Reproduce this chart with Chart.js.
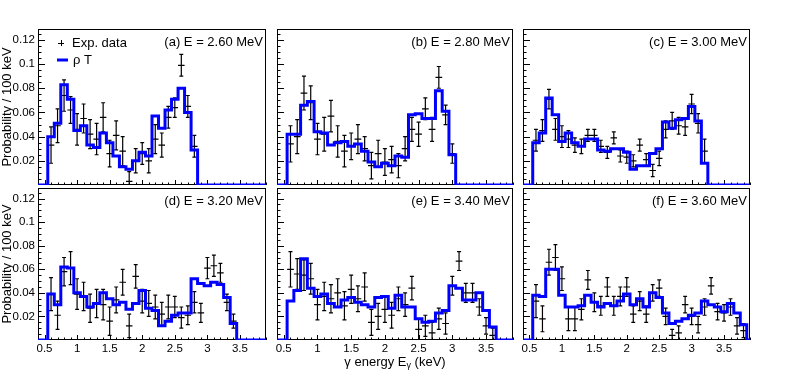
<!DOCTYPE html>
<html>
<head>
<meta charset="utf-8">
<script src="https://cdn.jsdelivr.net/npm/chart.js@4/dist/chart.umd.min.js"></script>
<style>
  html, body { margin: 0; padding: 0; background: #fff; }
  #wrap { position: relative; width: 789px; height: 374px; }
  #wrap canvas { position: absolute; left: 0; top: 0; pointer-events: none; }
</style>
</head>
<body>
<div id="wrap">
  <canvas id="pa" width="789" height="374"></canvas>
  <canvas id="pb" width="789" height="374"></canvas>
  <canvas id="pc" width="789" height="374"></canvas>
  <canvas id="pd" width="789" height="374"></canvas>
  <canvas id="pe" width="789" height="374"></canvas>
  <canvas id="pf" width="789" height="374"></canvas>
</div>
<script>
// gamma energy bins (MeV on the axis, 100 keV wide)
const energyCentres = [0.6, 0.7, 0.8, 0.9, 1.0, 1.1, 1.2, 1.3, 1.4, 1.5, 1.6, 1.7, 1.8, 1.9, 2.0, 2.1, 2.2,
  2.3, 2.4, 2.5, 2.6, 2.7, 2.8, 2.9, 3.0, 3.1, 3.2, 3.3, 3.4, 3.5, 3.6, 3.7, 3.8];
const binEdges = [0.55, 0.65, 0.75, 0.85, 0.95, 1.05, 1.15, 1.25, 1.35, 1.45, 1.55, 1.65, 1.75, 1.85, 1.95,
  2.05, 2.15, 2.25, 2.35, 2.45, 2.55, 2.65, 2.75, 2.85, 2.95, 3.05, 3.15, 3.25, 3.35, 3.45, 3.55, 3.65,
  3.75, 3.85, 3.95];

const xTickValues = [0.5, 1, 1.5, 2, 2.5, 3, 3.5];
const xTickLabels = ['0.5', '1', '1.5', '2', '2.5', '3', '3.5'];
const yTickValues = [0.02, 0.04, 0.06, 0.08, 0.1, 0.12];
const yTickLabels = ['0.02', '0.04', '0.06', '0.08', '0.1', '0.12'];

const panelLabels = ['(a) E = 2.60 MeV', '(b) E = 2.80 MeV', '(c) E = 3.00 MeV',
  '(d) E = 3.20 MeV', '(e) E = 3.40 MeV', '(f) E = 3.60 MeV'];

// experimental points (from 0.6 upward) and their errors
const expA = [0.033, 0.049, 0.074, 0.062, 0.046, 0.055, 0.042, 0.038, 0.056, 0.026, 0.041, 0.028, 0.003,
  0.020, 0.026, 0.020, 0.038, 0.033, 0.056, 0.064, 0.099, 0.065, 0.032];
const errA = [0.015, 0.014, 0.013, 0.011, 0.013, 0.012, 0.012, 0.013, 0.012, 0.011, 0.012, 0.012, 0.008,
  0.010, 0.009, 0.010, 0.012, 0.010, 0.009, 0.008, 0.009, 0.009, 0.009];
const expB = [0.034, 0.040, 0.076, 0.068, 0.038, 0.042, 0.057, 0.036, 0.028, 0.032, 0.038, 0.030, 0.016,
  0.026, 0.019, 0.021, 0.016, 0.030, 0.046, 0.042, 0.063, 0.046, 0.089, 0.058, 0.026];
const errB = [0.015, 0.014, 0.014, 0.014, 0.013, 0.014, 0.013, 0.013, 0.013, 0.011, 0.012, 0.010, 0.011,
  0.011, 0.011, 0.011, 0.010, 0.010, 0.010, 0.010, 0.009, 0.010, 0.009, 0.008, 0.008];
const expC = [0.037, 0.045, 0.071, 0.046, 0.040, 0.038, 0.033, 0.032, 0.041, 0.041, 0.032, 0.027, 0.039,
  0.024, 0.023, 0.020, 0.033, 0.021, 0.012, 0.022, 0.046, 0.053, 0.049, 0.048, 0.067, 0.051, 0.028];
const errC = [0.009, 0.009, 0.008, 0.009, 0.009, 0.007, 0.006, 0.006, 0.005, 0.005, 0.005, 0.005, 0.005,
  0.005, 0.005, 0.005, 0.005, 0.005, 0.005, 0.006, 0.007, 0.007, 0.007, 0.007, 0.008, 0.008, 0.010];
const expD = [0.039, 0.021, 0.058, 0.061, 0.039, 0.037, 0.027, 0.031, 0.030, 0.016, 0.034, 0.049, 0.012,
  0.054, 0.033, 0.031, 0.028, 0.022, 0.028, 0.028, 0.019, 0.021, 0.032, 0.023, 0.061, 0.063, 0.057,
  0.032, 0.016];
const errD = [0.014, 0.012, 0.012, 0.014, 0.013, 0.012, 0.012, 0.012, 0.013, 0.012, 0.011, 0.011, 0.010,
  0.010, 0.010, 0.011, 0.010, 0.010, 0.010, 0.009, 0.009, 0.008, 0.009, 0.008, 0.009, 0.009, 0.008,
  0.007, 0.006];
const expE = [0.060, 0.056, 0.055, 0.052, 0.030, 0.037, 0.035, 0.040, 0.029, 0.043, 0.035, 0.045, 0.015,
  0.020, 0.026, 0.021, 0.035, 0.030, 0.044, 0.009, 0.012, 0.006, 0.018, 0.014, 0.046, 0.067, 0.040,
  0.040, 0.028, 0.012, 0.004];
const errE = [0.015, 0.013, 0.013, 0.013, 0.013, 0.012, 0.012, 0.012, 0.012, 0.012, 0.011, 0.012, 0.011,
  0.011, 0.011, 0.011, 0.010, 0.010, 0.010, 0.009, 0.009, 0.009, 0.009, 0.009, 0.008, 0.008, 0.008,
  0.008, 0.007, 0.007, 0.006];
const expF = [0.033, 0.018, 0.066, 0.070, 0.052, 0.018, 0.018, 0.026, 0.051, 0.032, 0.029, 0.045, 0.029,
  0.037, 0.045, 0.022, 0.033, 0.022, 0.040, 0.044, 0.020, 0.004, 0.006, 0.030, 0.020, 0.013, 0.028,
  0.046, 0.024, 0.023, 0.028, 0.012, 0.008];
const errF = [0.014, 0.011, 0.011, 0.011, 0.010, 0.010, 0.010, 0.009, 0.008, 0.008, 0.008, 0.008, 0.008,
  0.008, 0.008, 0.007, 0.008, 0.007, 0.007, 0.007, 0.007, 0.005, 0.006, 0.007, 0.007, 0.007, 0.007,
  0.007, 0.007, 0.007, 0.007, 0.007, 0.006];

// rho T histograms, one value per bin starting at 0.55
const thA = [0.040, 0.051, 0.083, 0.071, 0.045, 0.049, 0.033, 0.031, 0.043, 0.035, 0.024, 0.015, 0.013,
  0.020, 0.027, 0.024, 0.057, 0.047, 0.062, 0.071, 0.080, 0.060, 0.029];
const thB = [0.042, 0.042, 0.066, 0.069, 0.044, 0.043, 0.033, 0.035, 0.036, 0.032, 0.034, 0.028, 0.019,
  0.015, 0.018, 0.016, 0.024, 0.023, 0.058, 0.059, 0.055, 0.055, 0.078, 0.061, 0.025];
const thC = [0.035, 0.043, 0.072, 0.058, 0.036, 0.043, 0.035, 0.032, 0.038, 0.038, 0.029, 0.028, 0.030,
  0.030, 0.027, 0.013, 0.016, 0.016, 0.026, 0.030, 0.052, 0.047, 0.054, 0.055, 0.065, 0.053, 0.018];
const thD = [0.039, 0.030, 0.062, 0.061, 0.040, 0.037, 0.028, 0.031, 0.040, 0.035, 0.030, 0.032, 0.026,
  0.031, 0.042, 0.027, 0.025, 0.012, 0.016, 0.021, 0.023, 0.023, 0.052, 0.048, 0.046, 0.049, 0.047,
  0.036, 0.014];
const thE = [0.033, 0.042, 0.069, 0.044, 0.037, 0.039, 0.031, 0.028, 0.034, 0.036, 0.032, 0.030, 0.028,
  0.036, 0.037, 0.027, 0.038, 0.028, 0.028, 0.018, 0.015, 0.016, 0.023, 0.025, 0.046, 0.044, 0.034,
  0.034, 0.040, 0.025, 0.011];
const thF = [0.038, 0.037, 0.060, 0.060, 0.038, 0.028, 0.028, 0.029, 0.038, 0.032, 0.028, 0.031, 0.029,
  0.033, 0.039, 0.030, 0.035, 0.028, 0.040, 0.036, 0.023, 0.014, 0.016, 0.018, 0.021, 0.023, 0.033,
  0.030, 0.028, 0.024, 0.031, 0.023, 0.013];

const X_MIN = 0.4, X_MAX = 3.9, Y_MIN = 0, Y_MAX = 0.129;
const FONT = '"Liberation Sans", Arial, Helvetica, sans-serif';
const W = 789, H = 374;
const cols = [[38, 266], [277, 513], [523, 750]];
const rows = [[29, 185], [188, 340]];

function histPoints(values) {
  const pts = [{ x: X_MIN, y: 0 }];
  values.forEach((v, i) => pts.push({ x: binEdges[i], y: v }));
  pts.push({ x: binEdges[values.length], y: 0 });
  pts.push({ x: X_MAX, y: 0 });
  return pts;
}

function errorPoints(values, errors) {
  const pts = [];
  const hw = 0.05, cap = 0.03;
  values.forEach((v, i) => {
    const xc = energyCentres[i], lo = v - errors[i], hi = v + errors[i];
    pts.push({ x: xc, y: lo }, { x: xc, y: hi }, { x: xc, y: null });
    pts.push({ x: xc - hw, y: v }, { x: xc + hw, y: v }, { x: xc, y: null });
    pts.push({ x: xc - cap, y: lo }, { x: xc + cap, y: lo }, { x: xc, y: null });
    pts.push({ x: xc - cap, y: hi }, { x: xc + cap, y: hi }, { x: xc, y: null });
  });
  return pts;
}

// ROOT-like frame: box and inward ticks under the data, texts on top
const rootStyle = {
  id: 'rootStyle',
  beforeDatasetsDraw(chart) {
    const { ctx, chartArea: a, scales: { x, y } } = chart;
    ctx.save();
    ctx.strokeStyle = '#000';
    ctx.lineWidth = 1;
    ctx.beginPath();
    for (let i = 0; i <= 35; i++) {
      const v = X_MIN + i * 0.1;
      const px = Math.round(x.getPixelForValue(v)) + 0.5;
      const major = Math.abs(v * 2 - Math.round(v * 2)) < 1e-6;
      ctx.moveTo(px, a.bottom);
      ctx.lineTo(px, a.bottom - (major ? 5 : 2.5));
    }
    for (let i = 1; i <= 25; i++) {
      const v = i * 0.005;
      const py = Math.round(y.getPixelForValue(v)) + 0.5;
      ctx.moveTo(a.left, py);
      ctx.lineTo(a.left + (i % 4 === 0 ? 7 : 3.5), py);
    }
    ctx.stroke();
    ctx.strokeRect(Math.round(a.left) + 0.5, Math.round(a.top) + 0.5,
      Math.round(a.right - a.left) - 1, Math.round(a.bottom - a.top) - 1);
    ctx.restore();
  },
  afterDatasetsDraw(chart, args, o) {
    const { ctx, chartArea: a } = chart;
    ctx.save();
    ctx.fillStyle = '#000';
    ctx.strokeStyle = '#000';
    ctx.lineWidth = 1;
    ctx.font = '13px ' + FONT;
    ctx.textAlign = 'right';
    ctx.textBaseline = 'middle';
    ctx.fillText(o.label, a.right - 3, a.top + 13);

    if (o.legend) {
      const mx = a.left + 23, my = a.top + 14;
      ctx.beginPath();
      ctx.moveTo(mx - 3, my + 0.5); ctx.lineTo(mx + 3, my + 0.5);
      ctx.moveTo(mx + 0.5, my - 3); ctx.lineTo(mx + 0.5, my + 3);
      ctx.stroke();
      ctx.textAlign = 'left';
      ctx.fillText('Exp. data', a.left + 34, my);
      ctx.strokeStyle = '#0000ff';
      ctx.lineWidth = 3;
      ctx.beginPath();
      ctx.moveTo(a.left + 19, a.top + 31); ctx.lineTo(a.left + 30, a.top + 31);
      ctx.stroke();
      ctx.fillText('\u03c1 T', a.left + 35, a.top + 31);
    }

    if (o.xTitle) {
      const big = '13px ' + FONT, small = '9px ' + FONT;
      const p1 = '\u03b3 energy E', p2 = '\u03b3', p3 = ' (keV)';
      ctx.font = big; const w1 = ctx.measureText(p1).width, w3 = ctx.measureText(p3).width;
      ctx.font = small; const w2 = ctx.measureText(p2).width;
      let tx = (a.left + a.right) / 2 - (w1 + w2 + w3) / 2;
      const ty = a.bottom + 22;
      ctx.textAlign = 'left';
      ctx.font = big; ctx.fillText(p1, tx, ty); tx += w1;
      ctx.font = small; ctx.fillText(p2, tx, ty + 4); tx += w2;
      ctx.font = big; ctx.fillText(p3, tx, ty);
    }
    ctx.restore();
  }
};

function makePanel(id, col, row, label, expValues, expErrors, theory) {
  const [left, right] = cols[col];
  const [top, bottom] = rows[row];
  return new Chart(document.getElementById(id), {
    type: 'scatter',
    data: {
      datasets: [
        {
          label: '\u03c1 T',
          data: histPoints(theory),
          showLine: true,
          stepped: true,
          borderColor: '#0000ff',
          borderWidth: 3,
          pointRadius: 0,
          fill: false,
        },
        {
          label: 'Exp. data',
          data: errorPoints(expValues, expErrors),
          showLine: true,
          spanGaps: false,
          borderColor: '#000',
          borderWidth: 1.2,
          pointRadius: 0,
          fill: false,
        },
      ],
    },
    options: {
      responsive: false,
      animation: false,
      devicePixelRatio: 1,
      layout: { padding: { left: 0, top: top, right: W - right, bottom: 0 } },
      plugins: {
        legend: { display: false },
        tooltip: { enabled: false },
        rootStyle: { label: label, legend: id === 'pa', xTitle: id === 'pe' },
      },
      scales: {
        x: {
          type: 'linear',
          min: X_MIN,
          max: X_MAX,
          afterBuildTicks: (s) => { s.ticks = xTickValues.map((v) => ({ value: v })); },
          afterFit: (s) => { s.height = H - bottom; },
          grid: { display: false, drawTicks: false },
          border: { display: false },
          ticks: {
            display: row === 1,
            autoSkip: false,
            maxRotation: 0,
            padding: 2,
            color: '#000',
            font: { family: FONT, size: 11.5 },
            callback: (v, i) => xTickLabels[i],
          },
        },
        y: {
          type: 'linear',
          min: Y_MIN,
          max: Y_MAX,
          afterBuildTicks: (s) => { s.ticks = yTickValues.map((v) => ({ value: v })); },
          afterFit: (s) => { s.width = left; },
          grid: { display: false, drawTicks: false },
          border: { display: false },
          ticks: {
            display: col === 0,
            padding: 3,
            color: '#000',
            font: { family: FONT, size: 11.5 },
            callback: (v, i) => yTickLabels[i],
          },
          title: {
            display: col === 0,
            text: 'Probability / 100 keV',
            color: '#000',
            padding: 0,
            font: { family: FONT, size: 13 },
          },
        },
      },
    },
    plugins: [rootStyle],
  });
}

makePanel('pa', 0, 0, panelLabels[0], expA, errA, thA);
makePanel('pb', 1, 0, panelLabels[1], expB, errB, thB);
makePanel('pc', 2, 0, panelLabels[2], expC, errC, thC);
makePanel('pd', 0, 1, panelLabels[3], expD, errD, thD);
makePanel('pe', 1, 1, panelLabels[4], expE, errE, thE);
makePanel('pf', 2, 1, panelLabels[5], expF, errF, thF);
</script>
</body>
</html>
